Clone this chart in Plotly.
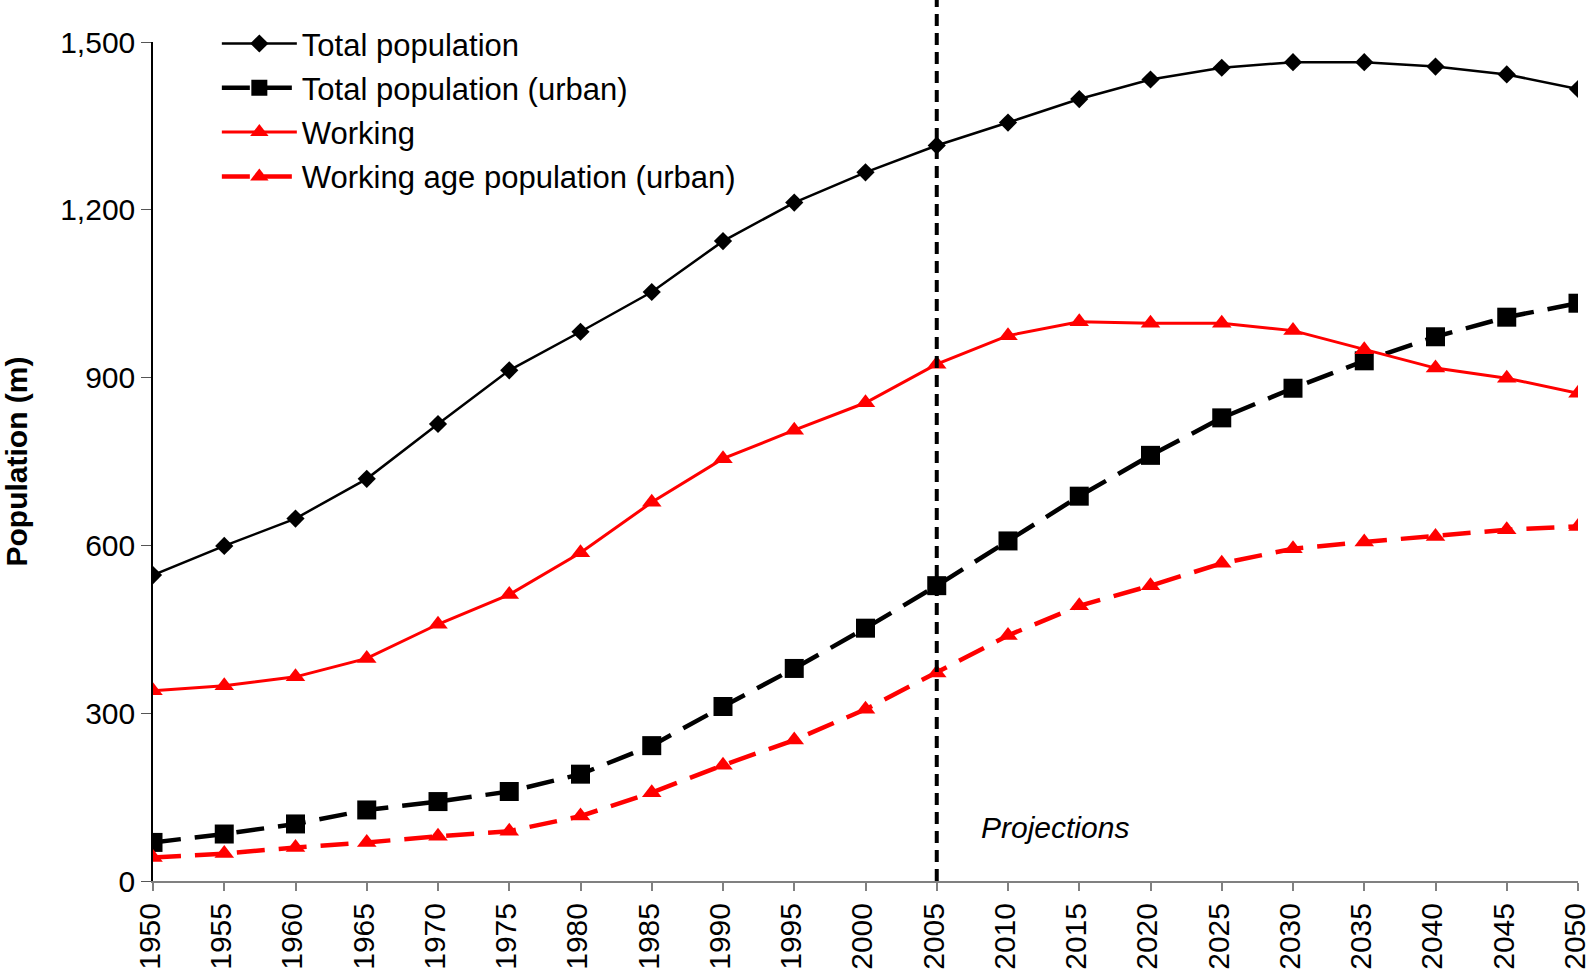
import plotly.graph_objects as go

years = [1950, 1955, 1960, 1965, 1970, 1975, 1980, 1985, 1990, 1995, 2000,
         2005, 2010, 2015, 2020, 2025, 2030, 2035, 2040, 2045, 2050]
total_pop = [547, 599, 648, 719, 817, 913, 982, 1053, 1144, 1213, 1267,
             1315, 1356, 1398, 1433, 1454, 1464, 1464, 1456, 1442, 1416]
total_urban = [69, 84, 102, 127, 142, 160, 191, 242, 312, 380, 452,
               528, 608, 688, 761, 828, 881, 930, 973, 1008, 1033]
working = [340, 349, 365, 398, 459, 512, 587, 677, 755, 806, 855,
           924, 975, 1000, 997, 997, 984, 950, 917, 899, 872]
working_urban = [42, 49, 60, 69, 80, 89, 116, 158, 207, 252, 307,
                 372, 439, 492, 528, 568, 594, 606, 616, 628, 634]
y_ticks = [0, 300, 600, 900, 1200, 1500]
y_tick_labels = ["0", "300", "600", "900", "1,200", "1,500"]
projection_year = 2005

FONT = "Liberation Sans, Arial, sans-serif"
RED = "#ff0000"

fig = go.Figure()
fig.add_trace(go.Scatter(
    x=years, y=total_pop, name="Total population", mode="lines+markers",
    line=dict(color="black", width=2.5),
    marker=dict(symbol="diamond", size=14, color="black"),
    legendgroup="a"))
fig.add_trace(go.Scatter(
    x=years, y=total_urban, name="Total population (urban)", mode="lines+markers",
    line=dict(color="black", width=4.5, dash="28px,14px"),
    marker=dict(symbol="square", size=19, color="black"),
    legendgroup="b"))
fig.add_trace(go.Scatter(
    x=years, y=working, name="Working", mode="lines+markers",
    line=dict(color=RED, width=3),
    marker=dict(symbol="triangle-up", size=17, color=RED),
    legendgroup="c"))
fig.add_trace(go.Scatter(
    x=years, y=working_urban, name="Working age population (urban)", mode="lines+markers",
    line=dict(color=RED, width=4.5, dash="28px,14px"),
    marker=dict(symbol="triangle-up", size=17, color=RED),
    legendgroup="d"))

fig.add_shape(type="line", xref="x", yref="paper",
              x0=projection_year, x1=projection_year, y0=0, y1=1.06,
              line=dict(color="black", width=4, dash="12px,7px"))

fig.add_annotation(x=2013.3, y=96, text="<i>Projections</i>", showarrow=False,
                   font=dict(family=FONT, size=30, color="black"))

fig.update_layout(
    width=1592, height=974,
    paper_bgcolor="white", plot_bgcolor="white",
    margin=dict(l=153, r=14, t=42, b=93),
    font=dict(family=FONT, size=30, color="black"),
    showlegend=True,
    legend=dict(x=0.0448, y=1.03, xanchor="left", yanchor="top",
                bgcolor="rgba(0,0,0,0)", font=dict(family=FONT, size=31),
                itemwidth=75, tracegroupgap=1),
    xaxis=dict(range=[1950, 2050], tickmode="array", tickvals=years,
               ticktext=[str(y) for y in years], tickangle=-90,
               showgrid=False, zeroline=False, showline=True,
               linecolor="#808080", linewidth=2, ticks="outside",
               ticklen=8, tickcolor="#808080", tickwidth=1.5,
               ticklabeloverflow="allow", automargin=False,
               ticklabelshift=-3,
               tickfont=dict(family=FONT, size=30)),
    yaxis=dict(range=[0, 1500], tickmode="array", tickvals=y_ticks,
               ticktext=y_tick_labels, showgrid=False, zeroline=False,
               showline=True, linecolor="black", linewidth=1.5,
               ticks="outside", ticklen=10, tickcolor="#555555",
               automargin=False,
               tickfont=dict(family=FONT, size=30),
               title=dict(text="<b>Population (m)</b>",
                          font=dict(family=FONT, size=30), standoff=40)),
)

fig.write_html("out.html", config={"displayModeBar": False},
               post_script="document.body.style.margin='0';")
